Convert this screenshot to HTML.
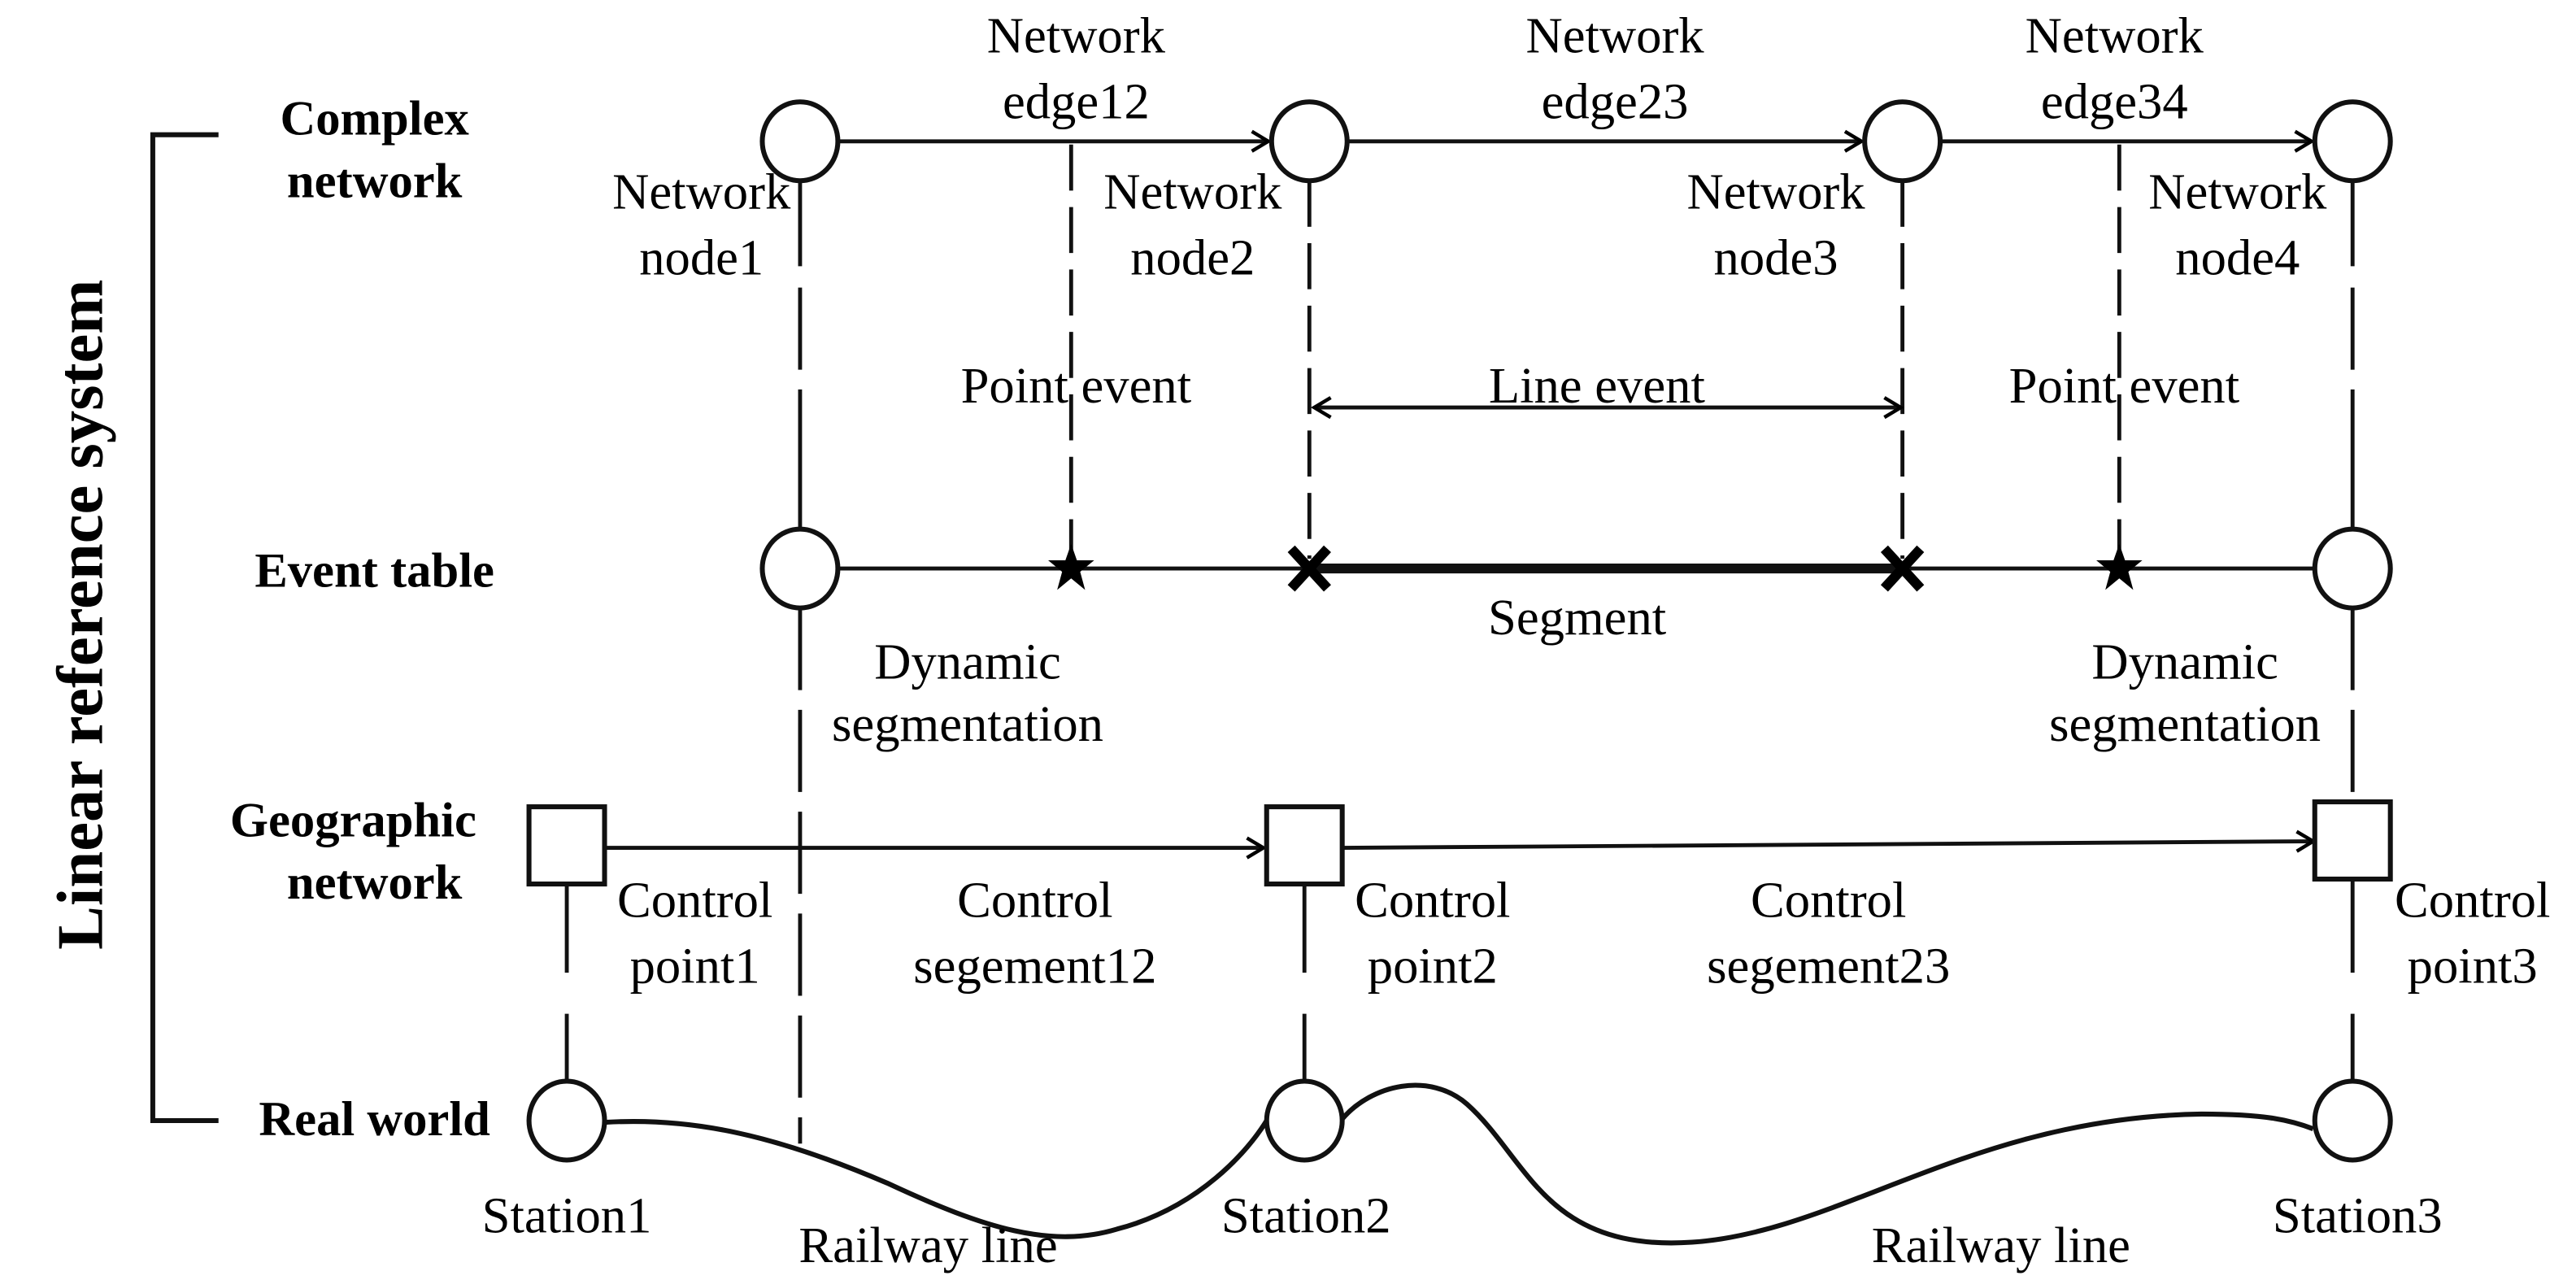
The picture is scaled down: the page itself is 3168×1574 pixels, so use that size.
<!DOCTYPE html>
<html><head><meta charset="utf-8"><style>
html,body{margin:0;padding:0;background:#fff;}
svg{display:block;}
text{font-family:"Liberation Serif",serif;fill:#000;}
.t{font-size:31px;text-anchor:middle;}
.b{font-size:30px;font-weight:bold;text-anchor:middle;}
</style></head><body>
<svg width="3168" height="1574" viewBox="0 0 1568 779" preserveAspectRatio="none" xmlns="http://www.w3.org/2000/svg">
<defs>
<marker id="ar" markerWidth="14" markerHeight="14" refX="12" refY="7" orient="auto" markerUnits="userSpaceOnUse">
<path d="M2,1 L12,7 L2,13" fill="none" stroke="#000" stroke-width="2.2"/>
</marker>
<marker id="al" markerWidth="14" markerHeight="14" refX="2" refY="7" orient="auto" markerUnits="userSpaceOnUse">
<path d="M12,1 L2,7 L12,13" fill="none" stroke="#000" stroke-width="2.2"/>
</marker>
</defs>
<g stroke="#111" stroke-width="2.4" fill="none">
<path d="M133,82 H93 V682 H133" stroke-width="3"/>
<line x1="511" y1="86" x2="772" y2="86" marker-end="url(#ar)"/>
<line x1="821" y1="86" x2="1133" y2="86" marker-end="url(#ar)"/>
<line x1="1182" y1="86" x2="1407" y2="86" marker-end="url(#ar)"/>
<line x1="487" y1="110" x2="487" y2="162"/>
<line x1="487" y1="175" x2="487" y2="268" stroke-dasharray="50,12"/>
<line x1="487" y1="268" x2="487" y2="322"/>
<line x1="487" y1="370" x2="487" y2="420"/>
<line x1="487" y1="432" x2="487" y2="696" stroke-dasharray="50,12"/>
<line x1="1432" y1="110" x2="1432" y2="162"/>
<line x1="1432" y1="175" x2="1432" y2="268" stroke-dasharray="50,12"/>
<line x1="1432" y1="268" x2="1432" y2="322"/>
<line x1="1432" y1="370" x2="1432" y2="420"/>
<line x1="1432" y1="432" x2="1432" y2="490" stroke-dasharray="50,12"/>
<line x1="652" y1="88" x2="652" y2="336" stroke-dasharray="28,10"/>
<line x1="1290" y1="88" x2="1290" y2="336" stroke-dasharray="28,10"/>
<line x1="797" y1="110" x2="797" y2="340" stroke-dasharray="28,10"/>
<line x1="1158" y1="110" x2="1158" y2="340" stroke-dasharray="28,10"/>
<line x1="800" y1="248" x2="1157" y2="248" marker-start="url(#al)" marker-end="url(#ar)"/>
<line x1="511" y1="346" x2="1408" y2="346"/>
<line x1="797" y1="346" x2="1158" y2="346" stroke-width="6"/>
<line x1="368" y1="516" x2="769" y2="516" marker-end="url(#ar)"/>
<line x1="817" y1="516" x2="1408" y2="512" marker-end="url(#ar)"/>
<line x1="345" y1="538" x2="345" y2="592"/>
<line x1="345" y1="617" x2="345" y2="658"/>
<line x1="794" y1="538" x2="794" y2="592"/>
<line x1="794" y1="617" x2="794" y2="658"/>
<line x1="1432" y1="534" x2="1432" y2="592"/>
<line x1="1432" y1="617" x2="1432" y2="658"/>
<path d="M369,683 C420,680 470,690 540,720 C600,748 640,760 680,748 C730,735 760,700 771,682" stroke-width="3"/>
<path d="M817,681 C835,660 870,652 893,672 C930,705 940,762 1030,756 C1120,750 1200,680 1340,678 C1380,678 1395,682 1408,687" stroke-width="3"/>
</g>
<g stroke="#111" stroke-width="3" fill="#fff">
<ellipse cx="487" cy="86" rx="23" ry="24"/>
<ellipse cx="797" cy="86" rx="23" ry="24"/>
<ellipse cx="1158" cy="86" rx="23" ry="24"/>
<ellipse cx="1432" cy="86" rx="23" ry="24"/>
<ellipse cx="487" cy="346" rx="23" ry="24"/>
<ellipse cx="1432" cy="346" rx="23" ry="24"/>
<ellipse cx="345" cy="682" rx="23" ry="24"/>
<ellipse cx="794" cy="682" rx="23" ry="24"/>
<ellipse cx="1432" cy="682" rx="23" ry="24"/>
<rect x="322" y="491" width="46" height="47"/>
<rect x="771" y="491" width="46" height="47"/>
<rect x="1409" y="488" width="46" height="47"/>
</g>
<g stroke="#000" stroke-width="6">
<path d="M786,334 L808,358 M808,334 L786,358"/>
<path d="M1147,334 L1169,358 M1169,334 L1147,358"/>
</g>
<g fill="#000">
<polygon transform="translate(652,346)" points="0,-15 3.5,-5 14,-5 5.5,2 8.5,13 0,6 -8.5,13 -5.5,2 -14,-5 -3.5,-5"/>
<polygon transform="translate(1290,346)" points="0,-15 3.5,-5 14,-5 5.5,2 8.5,13 0,6 -8.5,13 -5.5,2 -14,-5 -3.5,-5"/>
</g>
<text transform="translate(62,374) rotate(-90)" text-anchor="middle" font-size="40" font-weight="bold" textLength="408" lengthAdjust="spacingAndGlyphs">Linear reference system</text>
<text class="b" x="228" y="82">Complex</text>
<text class="b" x="228" y="120">network</text>
<text class="b" x="228" y="357">Event table</text>
<text class="b" x="215" y="509">Geographic</text>
<text class="b" x="228" y="547">network</text>
<text class="b" x="228" y="691">Real world</text>
<text class="t" x="655" y="32">Network</text><text class="t" x="655" y="72">edge12</text>
<text class="t" x="983" y="32">Network</text><text class="t" x="983" y="72">edge23</text>
<text class="t" x="1287" y="32">Network</text><text class="t" x="1287" y="72">edge34</text>
<text class="t" x="427" y="127">Network</text><text class="t" x="427" y="167">node1</text>
<text class="t" x="726" y="127">Network</text><text class="t" x="726" y="167">node2</text>
<text class="t" x="1081" y="127">Network</text><text class="t" x="1081" y="167">node3</text>
<text class="t" x="1362" y="127">Network</text><text class="t" x="1362" y="167">node4</text>
<text class="t" x="655" y="245">Point event</text>
<text class="t" x="972" y="245">Line event</text>
<text class="t" x="1293" y="245">Point event</text>
<text class="t" x="960" y="386">Segment</text>
<text class="t" x="589" y="413">Dynamic</text><text class="t" x="589" y="451">segmentation</text>
<text class="t" x="1330" y="413">Dynamic</text><text class="t" x="1330" y="451">segmentation</text>
<text class="t" x="423" y="558">Control</text><text class="t" x="423" y="598">point1</text>
<text class="t" x="630" y="558">Control</text><text class="t" x="630" y="598">segement12</text>
<text class="t" x="872" y="558">Control</text><text class="t" x="872" y="598">point2</text>
<text class="t" x="1113" y="558">Control</text><text class="t" x="1113" y="598">segement23</text>
<text class="t" x="1505" y="558">Control</text><text class="t" x="1505" y="598">point3</text>
<text class="t" x="345" y="750">Station1</text>
<text class="t" x="795" y="750">Station2</text>
<text class="t" x="1435" y="750">Station3</text>
<text class="t" x="565" y="768">Railway line</text>
<text class="t" x="1218" y="768">Railway line</text>
</svg>
</body></html>
